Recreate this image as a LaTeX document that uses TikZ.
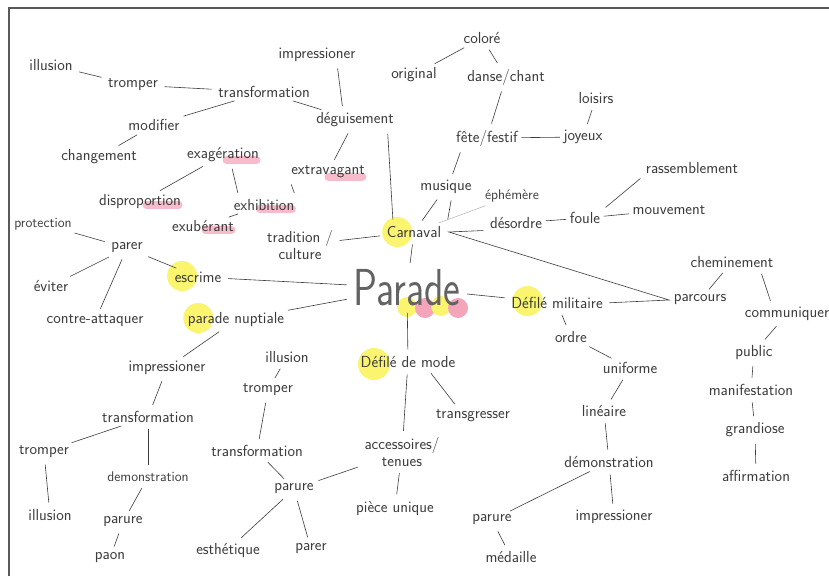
\documentclass[tikz,border=0pt]{standalone}
\usepackage{fontspec}
\usetikzlibrary{calc,backgrounds}
\definecolor{ink}{RGB}{60,60,60}
\definecolor{marker}{RGB}{250,244,110}
\definecolor{rose}{RGB}{244,165,185}
\tikzset{
  word/.style={text=ink, font=\sffamily\fontsize{16}{17}\selectfont, inner sep=1.5pt, align=center},
  smallword/.style={word, font=\sffamily\fontsize{14}{15}\selectfont},
  link/.style={draw=ink, line width=0.6pt, shorten <=5pt, shorten >=5pt},
  blob/.style={fill=marker},
  smear/.style={draw=rose, line width=8pt, line cap=round, opacity=0.75},
}

\begin{document}
\begin{tikzpicture}[x=1pt, y=-1pt]
    \useasboundingbox (0,0) rectangle (829,576);
    % Frame
    \draw[ink!85, line width=1.2pt] (9,576) -- (9,8) -- (829,8);

    % Centre
    \node[word, font=\sffamily\fontsize{40}{40}\selectfont, text=ink!80] (parade) at (407,288) {\scalebox{1}[1.3]{Parade}};

    % Carnaval branch
    \node[word] (carnaval) at (414,232) {Carnaval};
    \node[word] (tradition) at (300,245) {tradition /\\culture};
    \node[word] (musique) at (446,187) {musique};
    \node[smallword] (ephem) at (512,196) {éphémère};
    \node[word] (desordre) at (516,223) {désordre};
    \node[word] (foule) at (585,218) {foule};
    \node[word] (mouvement) at (669,210) {mouvement};
    \node[word] (rassemb) at (692,168) {rassemblement};
    \node[word] (fete) at (487,138) {fête/festif};
    \node[word] (joyeux) at (583,137) {joyeux};
    \node[word] (loisirs) at (596,98) {loisirs};
    \node[word] (danse) at (506,77) {danse/chant};
    \node[word] (colore) at (482,38) {coloré};
    \node[word] (original) at (414,75) {original};

    % Transformation / deguisement
    \node[word] (deguis) at (355,120) {déguisement};
    \node[word] (impressA) at (317,55) {impressioner};
    \node[word] (transfA) at (264,92) {transformation};
    \node[word] (tromperA) at (133,85) {tromper};
    \node[word] (illusionA) at (51,65) {illusion};
    \node[word] (modifier) at (154,125) {modifier};
    \node[word] (changement) at (99,157) {changement};
    \node[word] (extrav) at (328,172) {extravagant};
    \node[word] (exag) at (223,155) {exagération};
    \node[word] (dispro) at (140,202) {disproportion};
    \node[word] (exhib) at (264,205) {exhibition};
    \node[word] (exuber) at (203,226) {exubérant};

    % Escrime
    \node[word] (escrime) at (198,277) {escrime};
    \node[word] (parerA) at (127,248) {parer};
    \node[smallword] (protection) at (43,224) {protection};
    \node[word] (eviter) at (51,286) {éviter};
    \node[word] (contre) at (95,321) {contre-attaquer};

    % Parade nuptiale
    \node[word] (nuptiale) at (236,320) {parade nuptiale};
    \node[word] (impressB) at (167,368) {impressioner};
    \node[word] (transfC) at (148,417) {transformation};
    \node[word] (tromperC) at (44,452) {tromper};
    \node[word] (illusionC) at (50,515) {illusion};
    \node[smallword] (demonsC) at (148,477) {demonstration};
    \node[word] (parureD) at (123,522) {parure};
    \node[word] (paon) at (110,558) {paon};

    % Defile de mode
    \node[word] (demode) at (408,362) {Défilé de mode};
    \node[word] (transg) at (473,416) {transgresser};
    \node[word] (access) at (402,452) {accessoires/\\tenues};
    \node[word] (piece) at (395,508) {pièce unique};
    \node[word] (parureB) at (294,489) {parure};
    \node[word] (esthet) at (228,550) {esthétique};
    \node[word] (parerB) at (311,549) {parer};
    \node[word] (transfB) at (257,451) {transformation};
    \node[word] (tromperB) at (268,390) {tromper};
    \node[word] (illusionB) at (287,357) {illusion};

    % Defile militaire
    \node[word] (demil) at (557,303) {Défilé militaire};
    \node[word] (ordre) at (571,337) {ordre};
    \node[word] (uniforme) at (630,368) {uniforme};
    \node[word] (lineaire) at (604,411) {linéaire};
    \node[word] (demonsB) at (609,462) {démonstration};
    \node[word] (parureC) at (492,520) {parure};
    \node[word] (medaille) at (511,557) {médaille};
    \node[word] (impressC) at (614,517) {impressioner};

    % Parcours
    \node[word] (parcours) at (700,300) {parcours};
    \node[word] (chemin) at (732,262) {cheminement};
    \node[word] (commun) at (787,314) {communiquer};
    \node[word] (public) at (754,352) {public};
    \node[word] (manif) at (751,390) {manifestation};
    \node[word] (grand) at (755,430) {grandiose};
    \node[word] (affirm) at (756,476) {affirmation};

    % Links around the centre
    \draw[link] (escrime) -- (parade);
    \draw[link] (nuptiale) -- (parade);
    \draw[link] (parade) -- (carnaval);
    \draw[link] (parade) -- (demode);
    \draw[link] (parade) -- (demil);

    % Carnaval
    \draw[link] (carnaval) -- (tradition);
    \draw[link] (musique) -- (carnaval);
    \draw[link] ([xshift=6pt]musique.south) -- ([xshift=4pt]carnaval.north east);
    \draw[link] ([xshift=-25pt]fete.south) -- ([xshift=5pt]musique.north);
    \draw[link, draw=ink!35] (carnaval) -- (ephem);
    \draw[link] (desordre.south west) -- ([xshift=6pt]carnaval.east) -- ([xshift=-3pt]parcours.west) -- (demil.east);
    \draw[link, shorten <=2pt, shorten >=2pt] (desordre) -- (foule);
    \draw[link, shorten <=2pt, shorten >=2pt] (foule) -- (mouvement);
    \draw[link] (foule.north east) -- (rassemb.south west);
    \draw[link, shorten <=2pt, shorten >=2pt] (fete) -- (joyeux);
    \draw[link] (joyeux) -- (loisirs);
    \draw[link] (danse) -- (fete);
    \draw[link] (colore) -- (danse);
    \draw[link] (colore) -- (original);
    \draw[link] ([xshift=-8pt]deguis.south east) -- ([xshift=8pt]carnaval.north west);

    % Deguisement side
    \draw[link] ([xshift=20pt]impressA.south) -- ([xshift=-12pt]deguis.north);
    \draw[link] (transfA) -- (deguis);
    \draw[link] (deguis) -- (extrav);
    \draw[link] (tromperA) -- (transfA);
    \draw[link] (illusionA) -- (tromperA);
    \draw[link] (transfA) -- (modifier);
    \draw[link] (modifier) -- (changement);
    \draw[link] (exag) -- (dispro);
    \draw[link] ([xshift=8pt]exag.south) -- ([xshift=-25pt]exhib.north);
    \draw[link] (extrav.south west) -- (exhib.north east);
    \draw[link] (exhib) -- (exuber);

    % Escrime side
    \draw[link] (parerA) -- (escrime);
    \draw[link] (protection) -- (parerA);
    \draw[link] (parerA) -- (eviter);
    \draw[link] (parerA) -- (contre);

    % Parade nuptiale side
    \draw[link] (nuptiale) -- (impressB);
    \draw[link] (impressB) -- (transfC);
    \draw[link] (transfC) -- (tromperC);
    \draw[link] (tromperC) -- (illusionC);
    \draw[link] (transfC) -- (demonsC);
    \draw[link] (demonsC) -- (parureD);
    \draw[link] (parureD) -- (paon);

    % Defile de mode side
    \draw[link] (demode) -- (access);
    \draw[link] ([xshift=20pt]demode.south) -- ([xshift=-15pt]transg.north);
    \draw[link] (access) -- (piece);
    \draw[link] (parureB) -- (access);
    \draw[link] (parureB) -- (esthet);
    \draw[link] (parureB) -- (parerB);
    \draw[link] (transfB) -- (parureB);
    \draw[link] (tromperB) -- (transfB);
    \draw[link] (illusionB) -- (tromperB);

    % Defile militaire side
    \draw[link] (demil) -- (ordre);
    \draw[link] (ordre) -- (uniforme);
    \draw[link] (uniforme) -- (lineaire);
    \draw[link] (lineaire) -- (demonsB);
    \draw[link] (demonsB) -- (parureC);
    \draw[link] (demonsB) -- (impressC);
    \draw[link] (parureC) -- (medaille);

    % Parcours side
    \draw[link] (parcours) -- (chemin);
    \draw[link] ([xshift=28pt]chemin.south) -- ([xshift=-15pt]commun.north);
    \draw[link] (commun) -- (public);
    \draw[link] (public) -- (manif);
    \draw[link] (manif) -- (grand);
    \draw[link] (grand) -- (affirm);

    % Highlighter marks
    \begin{scope}[on background layer]
        \fill[blob] ($(carnaval.west)+(12,0)$) circle (15);
        \fill[blob] ($(escrime.west)+(9,-1)$) circle (15);
        \fill[blob] ($(nuptiale.west)+(12,-2)$) circle (15);
        \fill[blob] ($(demil.west)+(18,-2)$) circle (15);
        \fill[blob] ($(demode.west)+(15,2)$) circle (16);
        \fill[blob] ($(parade.center)+(0,19)$) circle (10);
        \fill[rose] ($(parade.center)+(18,20)$) circle (10);
        \fill[blob] ($(parade.center)+(34,18)$) circle (10);
        \fill[rose] ($(parade.center)+(51,20)$) circle (10);
        \draw[smear] ($(exag.east)+(-34,5)$) -- ($(exag.east)+(-4,5)$);
        \draw[smear] ($(extrav.east)+(-38,5)$) -- ($(extrav.east)+(-4,5)$);
        \draw[smear] ($(dispro.east)+(-36,3)$) -- ($(dispro.east)+(-4,3)$);
        \draw[smear] ($(exhib.east)+(-36,4)$) -- ($(exhib.east)+(-4,4)$);
        \draw[smear] ($(exuber.east)+(-30,4)$) -- ($(exuber.east)+(-4,4)$);
    \end{scope}
\end{tikzpicture}
\end{document}
